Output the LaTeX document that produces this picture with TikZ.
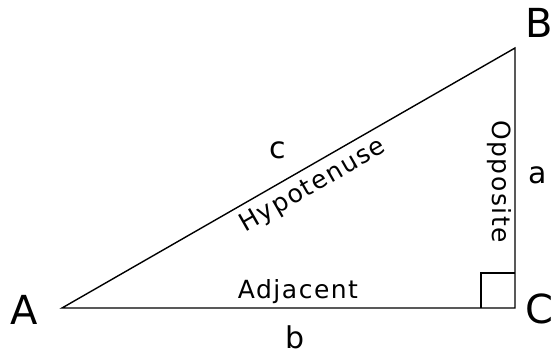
\documentclass[tikz,border=0pt]{standalone}
\usepackage{fontspec}
\setmainfont{DejaVu Sans}
\newfontfamily\sidefont[LetterSpace=6]{DejaVu Sans}
\usepackage{tikz}
\usetikzlibrary{calc}

\begin{document}
\begin{tikzpicture}[
  x=1pt, y=-1pt,
  line width=1.4pt,
  vertexlabel/.style={
    inner sep=0pt, font=\fontsize{40}{40}\selectfont
  },
  sidename/.style={
    inner sep=0pt, font=\fontsize{30}{30}\selectfont
  },
  sidelabel/.style={
    inner sep=0pt, font=\sidefont\fontsize{25}{25}\selectfont
  },
  rightangle/.style={
    line width=1.2pt
  }
]
\useasboundingbox (0,0) rectangle (551,354);

% Corners of the triangle
\coordinate (A) at (62,308);
\coordinate (B) at (515,48);
\coordinate (C) at (515,308);

% Triangle
\draw (A) -- (B) -- (C) -- cycle;

% Right angle mark
\draw[rightangle] ($(C)+(-34,0)$) -- ++(0,-35) -- ++(34,0);

% Corner letters
\node[vertexlabel] (labA) at (24.5,310) {A};
\node[vertexlabel] (labB) at (539.5,22.5) {B};
\node[vertexlabel] (labC) at (539.5,309) {C};

% Side letters
\node[sidename] (laba) at (537.5,175) {a};
\node[sidename] (labb) at (295.5,337.5) {b};
\node[sidename] (labc) at (277.5,150.5) {c};

% Side names
\node[sidelabel, rotate=29.85] (hyp) at (313,186) {Hypotenuse};
\node[sidelabel, rotate=-90] (opp) at (499,181.5) {Opposite};
\node[sidelabel] (adj) at (298,291.5) {Adjacent};

\end{tikzpicture}
\end{document}
